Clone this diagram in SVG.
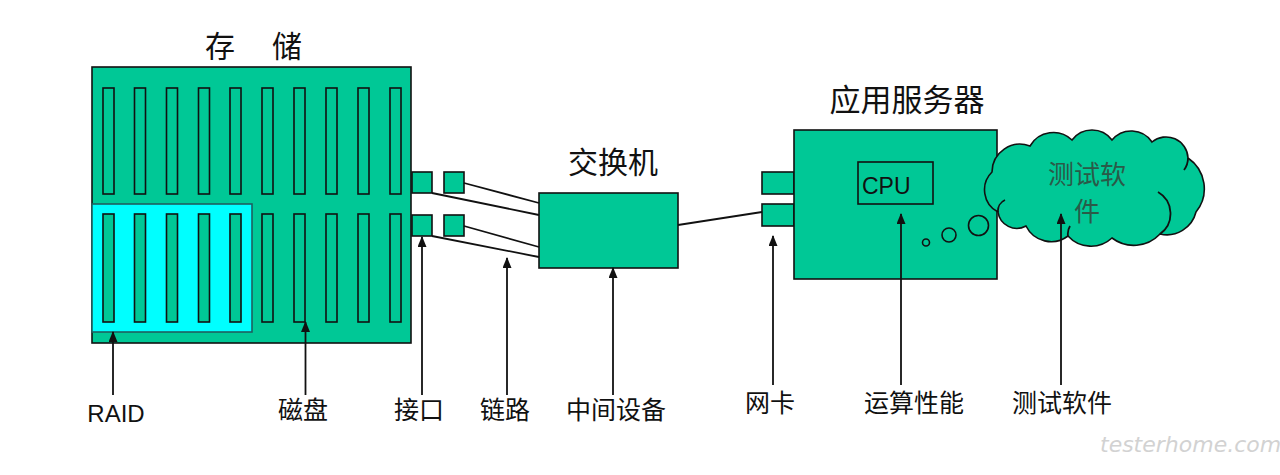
<svg xmlns="http://www.w3.org/2000/svg" width="1280" height="475" viewBox="0 0 1280 475">
<defs>
<style>
.g{fill:#00C896;stroke:#111;stroke-width:1.6}
.raid{fill:#00FFFF;stroke:#1f5f5f;stroke-width:1.6}
.disk{fill:#00C896;stroke:#111;stroke-width:1.6}
.ln{stroke:#111;stroke-width:1.8;fill:none}
.ar{stroke:#111;stroke-width:1.8;fill:none;marker-end:url(#ah)}
.t{font-family:"Noto Sans CJK SC","Noto Sans",sans-serif;fill:#111}
.lbl{font-family:"Noto Sans CJK SC","Noto Sans",sans-serif;font-size:25px;fill:#111;text-anchor:middle}
.en{font-family:"Liberation Sans",Arial,sans-serif;fill:#111}
.ct{font-family:"Noto Sans CJK SC","Noto Sans",sans-serif;font-size:26px;fill:#2a5a48;text-anchor:middle}
</style>
<marker id="ah" markerUnits="userSpaceOnUse" markerWidth="11" markerHeight="9" refX="10" refY="4.5" orient="auto">
<path d="M0,0 L11,4.5 L0,9 z" fill="#111"/>
</marker>
</defs>
<rect width="1280" height="475" fill="#fff"/>

<g id="storage">
<text class="t" x="205" y="57" font-size="30">存</text>
<text class="t" x="272" y="57" font-size="30">储</text>
<rect class="g" x="92" y="67" width="319" height="276"/>
<rect class="raid" x="92" y="204" width="160" height="128"/>
<g id="disks">
<rect class="disk" x="103" y="88" width="11" height="106"/>
<rect class="disk" x="134.5" y="88" width="11" height="106"/>
<rect class="disk" x="166.5" y="88" width="11" height="106"/>
<rect class="disk" x="198.5" y="88" width="11" height="106"/>
<rect class="disk" x="230" y="88" width="11" height="106"/>
<rect class="disk" x="262" y="88" width="11" height="106"/>
<rect class="disk" x="294" y="88" width="11" height="106"/>
<rect class="disk" x="326" y="88" width="11" height="106"/>
<rect class="disk" x="358" y="88" width="11" height="106"/>
<rect class="disk" x="390" y="88" width="11" height="106"/>
<rect class="disk" x="103" y="214" width="11" height="108"/>
<rect class="disk" x="134.5" y="214" width="11" height="108"/>
<rect class="disk" x="166.5" y="214" width="11" height="108"/>
<rect class="disk" x="198.5" y="214" width="11" height="108"/>
<rect class="disk" x="230" y="214" width="11" height="108"/>
<rect class="disk" x="262" y="214" width="11" height="108"/>
<rect class="disk" x="294" y="214" width="11" height="108"/>
<rect class="disk" x="326" y="214" width="11" height="108"/>
<rect class="disk" x="358" y="214" width="11" height="108"/>
<rect class="disk" x="390" y="214" width="11" height="108"/>
</g>
</g>

<g id="ports">
<rect class="g" x="412" y="172" width="20" height="21"/>
<rect class="g" x="444" y="172" width="20" height="21"/>
<rect class="g" x="412" y="215" width="20" height="21"/>
<rect class="g" x="444" y="215" width="20" height="21"/>
</g>

<g id="switch">
<text class="t" x="613" y="173" font-size="30" text-anchor="middle">交换机</text>
<rect class="g" x="539" y="193" width="139" height="75"/>
</g>

<g id="server">
<text class="t" x="907" y="111" font-size="31" text-anchor="middle">应用服务器</text>
<rect class="g" x="762" y="172" width="32" height="22"/>
<rect class="g" x="762" y="204" width="32" height="22"/>
<rect class="g" x="794" y="130" width="203" height="149"/>
<rect class="g" x="858" y="162" width="75" height="42"/>
<text class="en" x="862" y="194" font-size="23">CPU</text>
<circle class="g" cx="926" cy="242.5" r="3.5"/>
<circle class="g" cx="949" cy="235" r="7"/>
<circle class="g" cx="978.5" cy="225.5" r="10"/>
</g>

<g id="cloud">
<path class="g" d="M 992,172 A 28,28 0 0 1 1030,146 A 27,27 0 0 1 1072,140 A 25,25 0 0 1 1112,140 A 25,25 0 0 1 1152,142 A 22,22 0 0 1 1188,158 A 37,37 0 0 1 1196,212 A 30,30 0 0 1 1160,234 A 36,36 0 0 1 1112,238 A 31,31 0 0 1 1068,236 A 28,28 0 0 1 1026,226 A 19,19 0 0 1 998,212 A 25,25 0 0 1 992,172 Z"/>
<path class="ln" stroke-width="1.4" d="M 998,212 A 12,12 0 0 1 1005,200 M 1160,234 A 25,25 0 0 0 1158,192 M 1188,158 A 20,20 0 0 1 1184,170 M 1068,236 A 15,15 0 0 1 1070,226"/>
<text class="ct" x="1087" y="184">测试软</text>
<text class="ct" x="1087" y="221">件</text>
</g>

<g id="connectors">
<line class="ln" x1="464" y1="183" x2="539" y2="203"/>
<line class="ln" x1="432" y1="193" x2="539" y2="215"/>
<line class="ln" x1="464" y1="226" x2="539" y2="247"/>
<line class="ln" x1="432" y1="236" x2="539" y2="257"/>
<line class="ln" x1="678" y1="225" x2="762" y2="212"/>
<line class="ar" x1="113" y1="395" x2="113" y2="332"/>
<line class="ar" x1="305.5" y1="395" x2="305.5" y2="322"/>
<line class="ar" x1="422" y1="395" x2="422" y2="237"/>
<line class="ar" x1="507" y1="395" x2="507" y2="258"/>
<line class="ar" x1="613" y1="395" x2="613" y2="268"/>
<line class="ar" x1="773" y1="385" x2="773" y2="236"/>
<line class="ar" x1="901" y1="385" x2="901" y2="214"/>
<line class="ar" x1="1061" y1="385" x2="1061" y2="214"/>
</g>

<g id="labels">
<text class="en" x="116" y="422" font-size="24" text-anchor="middle">RAID</text>
<text class="lbl" x="303" y="419">磁盘</text>
<text class="lbl" x="419" y="419">接口</text>
<text class="lbl" x="505" y="419">链路</text>
<text class="lbl" x="616" y="419">中间设备</text>
<text class="lbl" x="770" y="412">网卡</text>
<text class="lbl" x="914" y="412">运算性能</text>
<text class="lbl" x="1062" y="412">测试软件</text>
</g>

<text x="1100" y="452" font-size="22" font-family="DejaVu Sans,sans-serif" font-style="italic" fill="#d2d2d2" font-weight="200">testerhome.com</text>
</svg>
